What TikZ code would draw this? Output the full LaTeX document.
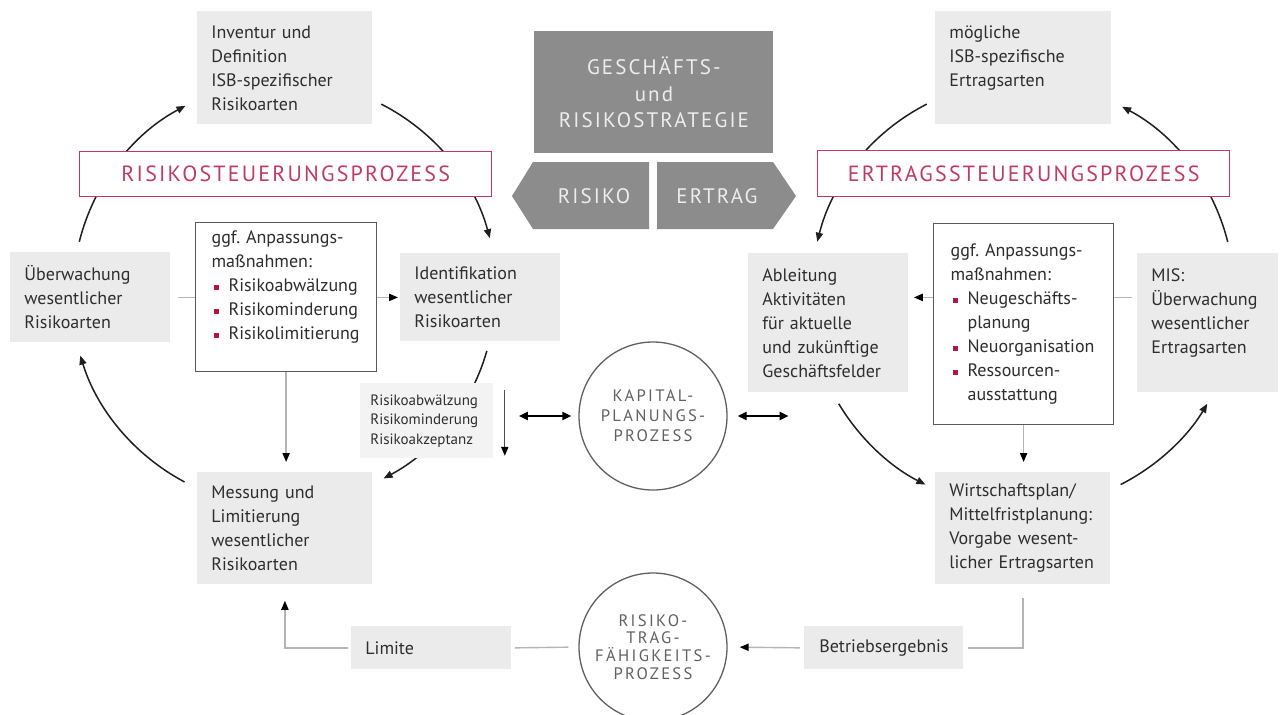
\documentclass[tikz,border=0pt]{standalone}
\usepackage{fontspec}
\setmainfont{PT Sans}
\newfontfamily\capsfont[LetterSpace=10]{PT Sans}
\newfontfamily\circfont[LetterSpace=14]{PT Sans}
\usepackage{tikz}
\usetikzlibrary{positioning,arrows.meta,backgrounds}

\definecolor{boxgray}{HTML}{EBEBEB}
\definecolor{palegray}{HTML}{F3F3F3}
\definecolor{stratgray}{HTML}{8C8C8C}
\definecolor{procpink}{HTML}{C23A63}
\definecolor{bulletred}{HTML}{B0173F}
\definecolor{txtgray}{HTML}{2E2E2E}
\definecolor{linegray}{HTML}{B4B4B4}

\newcommand{\bul}{\makebox[8.5pt][l]{\hspace{1pt}\textcolor{bulletred}{\rule[0.9pt]{2.6pt}{2.6pt}}}}
\newcommand{\ind}{\hspace*{8.5pt}}

\begin{document}
\begin{tikzpicture}[x=0.5pt,y=-0.5pt,
    box/.style={anchor=north west,fill=boxgray,inner xsep=7pt,inner ysep=0pt,align=left,
      text=txtgray,font=\fontsize{9}{12}\selectfont},
    gbox/.style 2 args={box,text width=#1,minimum height=#2},
    anpbox/.style 2 args={box,fill=white,draw=black!65,line width=0.6pt,inner xsep=8pt,
      text width=#1,minimum height=#2},
    smallbox/.style={box,fill=palegray,inner xsep=5pt,text width=56.5pt,minimum height=37.5pt,
      font=\fontsize{7.5}{9.75}\selectfont},
    pinkbox/.style={anchor=north west,draw=procpink,fill=white,line width=0.7pt,text=procpink,
      minimum width=206pt,minimum height=22.5pt,inner sep=0pt,font=\capsfont\fontsize{11}{13}\selectfont},
    strat/.style={fill=stratgray,text=black!7,align=center,inner sep=0pt,
      font=\capsfont\fontsize{10.5}{13.25}\selectfont},
    proc/.style={circle,draw=black!62,line width=0.65pt,fill=white,minimum size=74pt,inner sep=0pt,
      align=center,text=black!62,font=\circfont\fontsize{8.3}{10}\selectfont},
    cyc/.style={line width=0.75pt,draw=black!88,-{Triangle[length=4.5pt,width=3.6pt]}},
    arrtip/.style={-{Triangle[length=4.5pt,width=3.6pt,color=black]}},
    gline/.style={draw=linegray,line width=0.7pt},
    dline/.style={draw=black!70,line width=0.6pt},
    dbl/.style={line width=1.3pt,{Triangle[length=4.5pt,width=4pt]}-{Triangle[length=4.5pt,width=4pt]}}]

\useasboundingbox (0,0) rectangle (1285,714);
\coordinate (lc) at (285,293);
\coordinate (rc) at (1023,293);

% Strategie
\node[strat,anchor=north west,minimum width=119.5pt,minimum height=61pt] (strategie) at (534,31)
  {GESCHÄFTS-\\und\\RISIKOSTRATEGIE};
\fill[stratgray] (512,196) -- (533,162) -- (649,162) -- (649,229) -- (533,229) -- cycle;
\fill[stratgray] (657,162) -- (773,162) -- (796,196) -- (773,229) -- (657,229) -- cycle;
\node[strat,fill=none] (risiko) at (594,196) {RISIKO};
\node[strat,fill=none] (ertrag) at (717,196) {ERTRAG};

% Risikosteuerung
\node[pinkbox] (rsp) at (79,151) {RISIKOSTEUERUNGSPROZESS};
\node[gbox={73.5pt}{56.5pt}] (inventur) at (197,11) {Inventur~und\\Definition\\ISB-spezifischer\\Risikoarten};
\node[gbox={66pt}{45pt}] (ueberw) at (10,252) {Überwachung\\wesentlicher\\Risikoarten};
\node[gbox={66pt}{44pt}] (ident) at (400,253) {Identifikation\\wesentlicher\\Risikoarten};
\node[anpbox={74.5pt}{74.5pt}] (anpL) at (195,222)
  {ggf.\ Anpassungs-\\maßnahmen:\\\bul Risikoabwälzung\\\bul Risikominderung\\\bul Risikolimitierung\\\mbox{}};
\node[smallbox] (massn) at (360,383) {Risikoabwälzung\\Risikominderung\\Risikoakzeptanz};
\node[gbox={73.5pt}{56pt}] (messung) at (197,472) {Messung~und\\Limitierung\\wesentlicher\\Risikoarten};
\node[gbox={66pt}{21.5pt}] (limite) at (351,626) {Limite};

% Prozesse in der Mitte
\node[proc] (kapital) at (653,416) {KAPITAL-\\PLANUNGS-\\PROZESS};
\node[proc,font=\circfont\fontsize{8.3}{8.9}\selectfont] (rtf) at (653,647) {RISIKO-\\TRAG-\\FÄHIGKEITS-\\PROZESS};

% Ertragssteuerung
\node[pinkbox,minimum height=23pt] (esp) at (817,150) {ERTRAGSSTEUERUNGSPROZESS};
\node[gbox={74pt}{56.5pt}] (moeglich) at (935,11) {mögliche\\ISB-spezifische\\Ertragsarten\\\mbox{}};
\node[gbox={66pt}{69.5pt}] (ableitung) at (748,253) {Ableitung\\Aktivitäten\\für~aktuelle\\und~zukünftige\\Geschäftsfelder};
\node[anpbox={73pt}{100.5pt},inner xsep=8.5pt] (anpR) at (933,223)
  {ggf.\ Anpassungs-\\maßnahmen:\\\bul Neugeschäfts-\\\ind planung\\\bul Neuorganisation\\\bul Ressourcen-\\\ind ausstattung};
\node[gbox={56.5pt}{69.5pt}] (mis) at (1137,253) {MIS:\\Überwachung\\wesentlicher\\Ertragsarten\\\mbox{}};
\node[gbox={73.5pt}{56pt}] (wirtschaft) at (935,472) {Wirtschaftsplan/\\Mittelfristplanung:\\Vorgabe~wesent-\\licher~Ertragsarten};
\node[gbox={65.5pt}{21.5pt},align=center] (betrieb) at (804,626) {Betriebsergebnis};

\begin{scope}[on background layer]
  \fill[white] (0,0) rectangle (1285,714);
  % Kreislauf Risiko
  \draw[cyc] ([shift={(194:212)}]lc) arc[start angle=194,end angle=242,radius=212];
  \draw[cyc] ([shift={(297:212)}]lc) arc[start angle=297,end angle=345,radius=212];
  \draw[cyc] ([shift={(16:210)}]lc) arc[start angle=16,end angle=62,radius=210];
  \draw[cyc] ([shift={(118:214)}]lc) arc[start angle=118,end angle=163,radius=214];
  % Kreislauf Ertrag
  \draw[cyc] ([shift={(243:212)}]rc) arc[start angle=243,end angle=194,radius=212];
  \draw[cyc] ([shift={(149:215)}]rc) arc[start angle=149,end angle=117,radius=215];
  \draw[cyc] ([shift={(63:215)}]rc) arc[start angle=63,end angle=31,radius=215];
  \draw[cyc] ([shift={(346:211)}]rc) arc[start angle=346,end angle=298,radius=211];
  % Verbindungen
  \draw[gline,arrtip,shorten <=3.5pt,shorten >=1pt] (ueberw.east) -- (ident.west);
  \draw[gline,arrtip,shorten >=5pt] (anpL.south) -- (anpL.south |- messung.north);
  \draw[gline,arrtip,shorten <=2.5pt,shorten >=2.5pt] ([yshift=12.75pt]mis.west) -- ([yshift=12.75pt]ableitung.east);
  \draw[gline,arrtip,shorten >=5pt] (anpR.south) -- (anpR.south |- wirtschaft.north);
  \draw[dline,arrtip] ([xshift=5.5pt,yshift=-3.5pt]massn.north east) -- ([xshift=5.5pt,yshift=1.5pt]massn.south east);
  \draw[dbl,shorten <=12.5pt,shorten >=3.5pt] (massn.east |- kapital.west) -- (kapital.west);
  \draw[dbl,shorten <=5pt] (kapital.east) -- ++(61,0);
  \draw[gline,arrtip,shorten <=1.5pt,shorten >=8pt] (limite.west) -| (messung.south);
  \draw[gline,shorten <=1.5pt,shorten >=5pt] (limite.east) -- (rtf.west);
  \draw[gline,shorten <=6.5pt,shorten >=2pt] (wirtschaft.south) |- (betrieb.east);
  \draw[gline,arrtip,shorten <=2pt,shorten >=6pt] (betrieb.west) -- (rtf.east);
\end{scope}
\end{tikzpicture}
\end{document}
